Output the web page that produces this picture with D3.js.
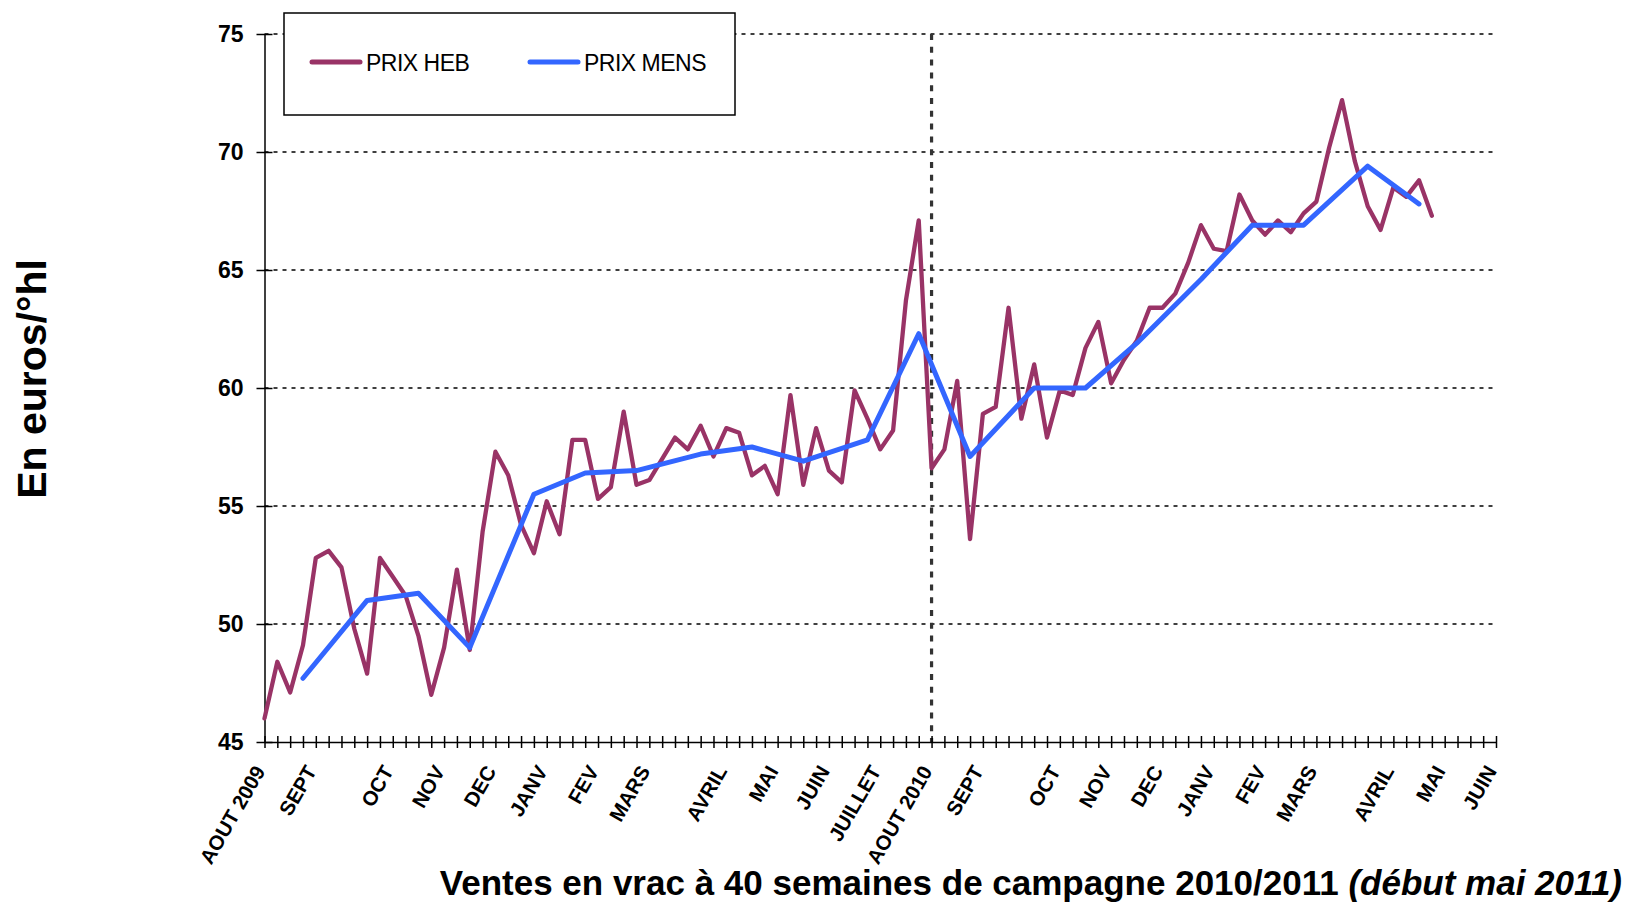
<html>
<head>
    <meta charset="utf-8">
    <style>
        body { margin: 0; background: #fff; }
        svg { font-family: "Liberation Sans", Arial, sans-serif; }
        .grid line { stroke: #000; stroke-width: 1.5; stroke-dasharray: 4,5; }
        .axis path, .axis line { stroke: #000; stroke-width: 1.5; }
        .axis text { fill: #000; font-weight: bold; }
    </style>
    <script src="https://d3js.org/d3.v7.min.js"></script>
</head>
<body>
    <svg width=1626 height=904></svg>
    <script>
        // weekly price (PRIX HEB), one value per week from AOUT 2009
        var hebValues = [46.0, 48.4, 47.1, 49.1, 52.8, 53.1, 52.4, 49.8, 47.9, 52.8,
                         52.0, 51.2, 49.5, 47.0, 49.0, 52.3, 48.9, 53.9, 57.3, 56.3,
                         54.2, 53.0, 55.2, 53.8, 57.8, 57.8, 55.3, 55.8, 59.0, 55.9,
                         56.1, 57.0, 57.9, 57.4, 58.4, 57.1, 58.3, 58.1, 56.3, 56.7,
                         55.5, 59.7, 55.9, 58.3, 56.5, 56.0, 59.9, 58.7, 57.4, 58.2,
                         63.7, 67.1, 56.6, 57.4, 60.3, 53.6, 58.9, 59.2, 63.4, 58.7,
                         61.0, 57.9, 59.9, 59.7, 61.7, 62.8, 60.2, 61.2, 62.0, 63.4,
                         63.4, 64.0, 65.3, 66.9, 65.9, 65.8, 68.2, 67.1, 66.5, 67.1,
                         66.6, 67.4, 67.9, 70.2, 72.2, 69.6, 67.7, 66.7, 68.5, 68.1,
                         68.8, 67.3];

        // monthly price (PRIX MENS) and the week it is plotted on
        var mensWeek = [3, 8, 12, 16, 21, 25, 29, 34, 38, 42, 47, 51, 55, 60, 64, 68, 73, 77, 81, 86, 90];
        var mensValues = [47.7, 51.0, 51.3, 49.0, 55.5, 56.4, 56.5, 57.2, 57.5, 56.9, 57.8,
                          62.3, 57.1, 60.0, 60.0, 61.9, 64.6, 66.9, 66.9, 69.4, 67.8];

        // month labels on the week axis
        var monthLabels = ['AOUT 2009', 'SEPT', 'OCT', 'NOV', 'DEC', 'JANV', 'FEV', 'MARS', 'AVRIL', 'MAI', 'JUIN', 'JUILLET',
                           'AOUT 2010', 'SEPT', 'OCT', 'NOV', 'DEC', 'JANV', 'FEV', 'MARS', 'AVRIL', 'MAI', 'JUIN'];
        var monthWeek = [0, 4, 10, 14, 18, 22, 26, 30, 36, 40, 44, 48, 52, 56, 62, 66, 70, 74, 78, 82, 88, 92, 96];
        var yTicks = [45, 50, 55, 60, 65, 70, 75];
        var nWeeks = 96;
        var splitWeek = 52;

        var seriesNames = ['PRIX HEB', 'PRIX MENS'];
        var colors = ['#993366', '#3366ff'];

        var svg = d3.select('svg');
        var plot = { left: 264.5, right: 1496, top: 34, bottom: 742 };

        var x = d3.scaleLinear().domain([0, nWeeks]).range([plot.left, plot.right]);
        var y = d3.scaleLinear().domain([45, 75]).range([plot.bottom, plot.top]);

        // horizontal dotted grid
        svg.append('g').attr('class', 'grid')
            .selectAll('line')
            .data(yTicks.slice(1))
            .enter().append('line')
                .attr('x1', plot.left).attr('x2', plot.right)
                .attr('y1', function(d) { return y(d); })
                .attr('y2', function(d) { return y(d); });

        // season break
        svg.append('line')
            .attr('x1', x(splitWeek)).attr('x2', x(splitWeek))
            .attr('y1', y(75)).attr('y2', y(45))
            .attr('stroke', '#333').attr('stroke-width', 3.2)
            .attr('stroke-dasharray', '6,6.8');

        // y axis
        var yAxis = svg.append('g').attr('class', 'axis')
            .attr('transform', 'translate(' + plot.left + ',0)')
            .call(d3.axisLeft(y).tickValues(yTicks).tickSize(8).tickSizeOuter(0));
        yAxis.selectAll('.tick line').attr('x1', -8).attr('x2', 8);
        yAxis.selectAll('.tick text').attr('x', -21).style('font-size', '23px');

        // x axis with weekly cross ticks
        var xAxis = svg.append('g').attr('class', 'axis')
            .attr('transform', 'translate(0,' + plot.bottom + ')')
            .call(d3.axisBottom(x).tickValues(d3.range(nWeeks + 1)).tickSize(6).tickSizeOuter(0).tickFormat(''));
        xAxis.selectAll('.tick line').attr('y1', -6).attr('y2', 6);

        // month labels
        var xLab = svg.append('g').attr('class', 'axis')
            .attr('transform', 'translate(0,' + plot.bottom + ')')
            .call(d3.axisBottom(x).tickValues(monthWeek).tickSize(0)
                .tickFormat(function(d, i) { return monthLabels[i]; }));
        xLab.select('.domain').remove();
        xLab.selectAll('.tick text')
            .attr('x', 0).attr('y', 0).attr('dy', 0)
            .attr('text-anchor', 'end')
            .attr('transform', 'translate(1,29) rotate(-60)')
            .style('font-size', '20.5px');

        // lines
        var heb = hebValues.map(function(v, i) { return [i, v]; });
        var mens = mensValues.map(function(v, i) { return [mensWeek[i], v]; });
        var line = d3.line()
            .x(function(d) { return x(d[0]); })
            .y(function(d) { return y(d[1]); });

        svg.append('path').datum(heb)
            .attr('d', line).attr('fill', 'none')
            .attr('stroke', colors[0]).attr('stroke-width', 4.3)
            .attr('stroke-linejoin', 'round').attr('stroke-linecap', 'round');
        svg.append('path').datum(mens)
            .attr('d', line).attr('fill', 'none')
            .attr('stroke', colors[1]).attr('stroke-width', 5)
            .attr('stroke-linejoin', 'round').attr('stroke-linecap', 'round');

        // legend
        var leg = svg.append('g').attr('transform', 'translate(284,13)');
        leg.append('rect').attr('width', 451).attr('height', 102)
            .attr('fill', '#fff').attr('stroke', '#000').attr('stroke-width', 1.5);
        var item = leg.selectAll('.item').data(seriesNames).enter().append('g')
            .attr('transform', function(d, i) { return 'translate(' + (28 + i * 218) + ',49)'; });
        item.append('line').attr('x1', 0).attr('x2', 48)
            .attr('stroke', function(d, i) { return colors[i]; })
            .attr('stroke-width', 5).attr('stroke-linecap', 'round');
        item.append('text').attr('x', 54).attr('y', 9)
            .style('font-size', '23px').style('letter-spacing', '-0.5px')
            .text(function(d) { return d; });

        // axis titles
        svg.append('text')
            .attr('transform', 'translate(46,379) rotate(-90)')
            .attr('text-anchor', 'middle')
            .style('font-size', '41px').style('font-weight', 'bold')
            .text('En euros/°hl');

        var xt = svg.append('text')
            .attr('x', 1622).attr('y', 895)
            .attr('text-anchor', 'end')
            .style('font-size', '35px').style('font-weight', 'bold');
        xt.append('tspan').text('Ventes en vrac à 40 semaines de campagne 2010/2011 ');
        xt.append('tspan').style('font-style', 'italic').text('(début mai 2011)');
    </script>
</body>
</html>
